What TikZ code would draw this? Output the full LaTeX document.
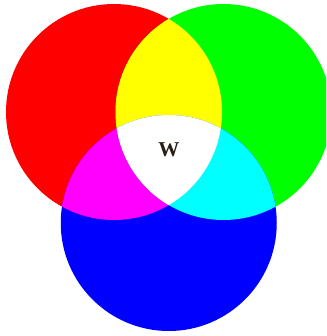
\documentclass[tikz,border=0pt]{standalone}
\usepackage{fontspec}
\newfontfamily\wfont{Liberation Serif}
\definecolor{cR}{RGB}{255,0,0}
\definecolor{cG}{RGB}{0,255,0}
\definecolor{cB}{RGB}{0,0,255}
\definecolor{cY}{RGB}{255,255,0}
\definecolor{cM}{RGB}{255,0,255}
\definecolor{cC}{RGB}{0,255,255}
\definecolor{cW}{RGB}{255,255,255}
\definecolor{cT}{RGB}{40,30,20}
\begin{document}
\begin{tikzpicture}[x=0.03cm,y=-0.03cm]
\def\R{108}
\useasboundingbox (0,0) rectangle (326,336);
\clip (0,0) rectangle (326,336);
\coordinate (r) at (114,112);
\coordinate (g) at (223.5,112);
\coordinate (b) at (168.75,223);
\fill[cR] (r) circle (\R);
\fill[cG] (g) circle (\R);
\fill[cB] (b) circle (\R);
\begin{scope}
\clip (r) circle (\R);
\fill[cY] (g) circle (\R);
\fill[cM] (b) circle (\R);
\end{scope}
\begin{scope}
\clip (g) circle (\R);
\fill[cC] (b) circle (\R);
\end{scope}
\begin{scope}
\clip (r) circle (\R);
\clip (g) circle (\R);
\fill[cW] (b) circle (\R);
\end{scope}
\node[font=\wfont\bfseries\fontsize{18}{20}\selectfont, text=cT] (w) at (169,150) {W};
\end{tikzpicture}
\end{document}
